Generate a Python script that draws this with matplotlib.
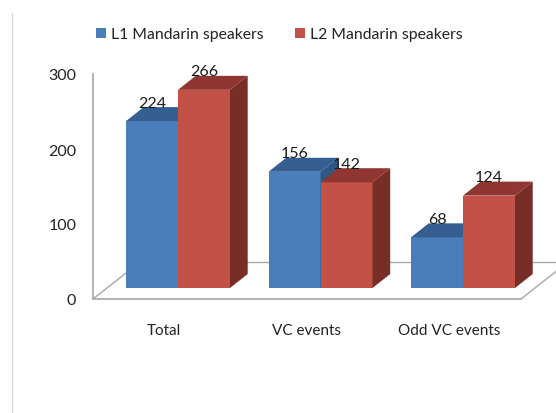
import matplotlib
matplotlib.use('Agg')
import matplotlib.pyplot as plt
from matplotlib.lines import Line2D
from matplotlib.patches import Polygon
import numpy as np

categories = ['Total', 'VC events', 'Odd VC events']
l1_values = [224, 156, 68]
l2_values = [266, 142, 124]
y_ticks = [0, 100, 200, 300]

W, H = 556, 414
BLUE = ('#4a7ebb', '#355f91', '#2e5785')
RED = ('#c25148', '#8f3632', '#772e27')
GREY = '#a6a6a6'
TEXT = '#222222'

plt.rcParams['font.family'] = 'Lato'
fig = plt.figure(figsize=(W / 100, H / 100), dpi=100)


# pixel box (from top left) to figure fractions
def box(left, top, right, bottom):
    return [left / W, 1 - bottom / H, (right - left) / W, (bottom - top) / H]


x_lim = ((93 - 178) / 142.5, (556 - 178) / 142.5)
x = np.arange(len(categories))

# wall and floor: value 0 sits on the front edge of the floor
ax = fig.add_axes(box(93, 75, 556, 300))
ax.set_xlim(x_lim)
ax.set_ylim(0, 300)
ax.patch.set_visible(False)
for s in ['top', 'right', 'bottom']:
    ax.spines[s].set_visible(False)
ax.spines['left'].set_color(GREY)
ax.spines['left'].set_linewidth(1.2)
ax.set_yticks(y_ticks)
ax.set_xticks(x - 14 / 142.5)
ax.set_xticklabels(categories)
ax.tick_params(axis='y', length=0, pad=12, labelsize=11.5, labelcolor=TEXT)
ax.tick_params(axis='x', length=0, pad=17, labelsize=11, labelcolor=TEXT)

floor_dx = 47 / 142.5
floor_dy = 37 / 0.75
floor_end = (521 - 178) / 142.5
ax.plot([x_lim[0], floor_end], [0, 0], color=GREY, lw=1.2, clip_on=False)
ax.plot([x_lim[0], x_lim[0] + floor_dx], [0, floor_dy], color=GREY, lw=1)
ax.plot([floor_end, floor_end + floor_dx], [0, floor_dy], color=GREY, lw=1)
ax.plot([x_lim[0] + floor_dx, x_lim[1]], [floor_dy, floor_dy], color=GREY, lw=1)

# bars sit 12 px above the front edge of the floor
ax2 = fig.add_axes(box(93, 61, 556, 289))
ax2.set_xlim(x_lim)
ax2.set_ylim(0, 228 / 0.745)
ax2.axis('off')

bar_w = 52 / 142.5
dx = 17.7 / 142.5
dy = 14 / 0.745


def draw_bars(offset, values, colors, label):
    xs = x + offset
    bars = ax2.bar(xs, values, bar_w, align='edge', color=colors[0], label=label, zorder=3)
    for x0, v in zip(xs, values):
        x1 = x0 + bar_w
        ax2.add_patch(Polygon([(x0, v), (x1, v), (x1 + dx, v + dy), (x0 + dx, v + dy)],
                              color=colors[1], lw=0, zorder=3))
        ax2.add_patch(Polygon([(x1, 0), (x1 + dx, dy), (x1 + dx, v + dy), (x1, v)],
                              color=colors[2], lw=0, zorder=3))
        ax2.annotate(str(v), (x0 + bar_w / 2, v), xytext=(0, 13.3), textcoords='offset points',
                     ha='center', va='center', fontsize=11.5, color='#1a1a1a', zorder=5)
    return bars


b1 = draw_bars(-bar_w, l1_values, BLUE, 'L1 Mandarin speakers')
b2 = draw_bars(0, l2_values, RED, 'L2 Mandarin speakers')

fig.legend(handles=[b1, b2], loc='center left', bbox_to_anchor=(96 / W, 1 - 35.5 / H), ncol=2,
           frameon=False, fontsize=11.3, labelcolor=TEXT, handlelength=0.65, handleheight=0.65,
           handletextpad=0.3, columnspacing=2.0, borderaxespad=0, borderpad=0)

# pale rule down the left side of the picture
fig.add_artist(Line2D([12 / W, 12 / W], [0, 1 - 14 / H], color='#d9d9d9', lw=1))

fig.savefig('out.png', dpi=100)
